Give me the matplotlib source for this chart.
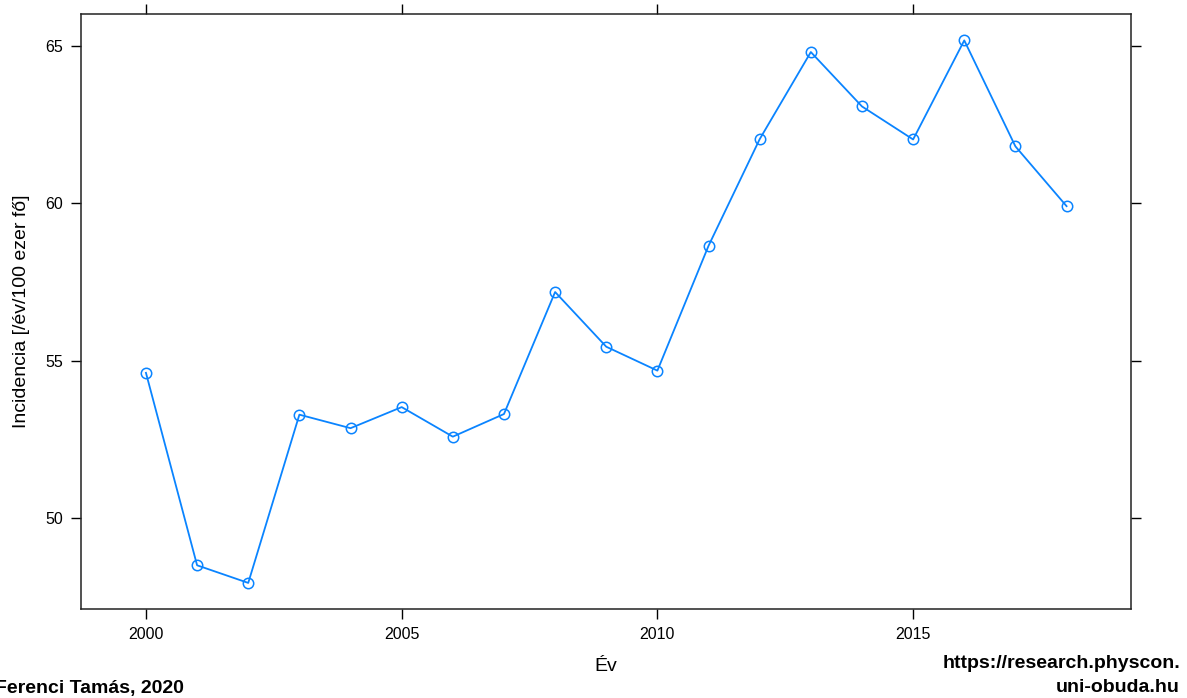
import matplotlib
matplotlib.use('Agg')
import matplotlib.pyplot as plt
import numpy as np

# values
years = [2000, 2001, 2002, 2003, 2004, 2005, 2006, 2007, 2008, 2009,
         2010, 2011, 2012, 2013, 2014, 2015, 2016, 2017, 2018]
incidence = [54.61, 48.49, 47.93, 53.28, 52.85, 53.52, 52.58, 53.30, 57.18, 55.44,
             54.68, 58.65, 62.04, 64.81, 63.08, 62.03, 65.18, 61.81, 59.91]
xticks = [2000, 2005, 2010, 2015]
yticks = [50, 55, 60, 65]

plt.rcParams['font.family'] = ['Liberation Sans', 'DejaVu Sans']

W, H = 1187, 698
fig = plt.figure(figsize=(W / 100, H / 100), dpi=100)
ax = fig.add_axes([81 / W, 1 - 608.7 / H, (1131 - 81) / W, (608.7 - 14.3) / H])

ax.plot(years, incidence, color='#0a84ff', lw=1.3, marker='o', ms=7.5,
        mfc='none', mec='#0a84ff', mew=1.1)

ax.set_xlim(1998.73, 2019.26)
ax.set_ylim(47.11, 66.01)
ax.set_xticks(xticks)
ax.set_yticks(yticks)
ax.tick_params(direction='out', length=7, width=1, labelsize=11.5,
               top=True, right=True, labeltop=False, labelright=False, pad=6)
for s in ax.spines.values():
    s.set_linewidth(1.1)
    s.set_color('#222222')

ax.set_xlabel('Év', fontsize=14, labelpad=12)
ax.set_ylabel('Incidencia [/év/100 ezer fő]', fontsize=14, labelpad=11)

fig.text(-5 / W, 1 - 688 / H, 'Ferenci Tamás, 2020', fontsize=14, fontweight='bold',
         ha='left', va='center')
fig.text(1180 / W, 1 - 663 / H, 'https://research.physcon.', fontsize=14, fontweight='bold',
         ha='right', va='center')
fig.text(1180 / W, 1 - 688 / H, 'uni-obuda.hu', fontsize=14, fontweight='bold',
         ha='right', va='center')

fig.savefig('out.png', dpi=100)
